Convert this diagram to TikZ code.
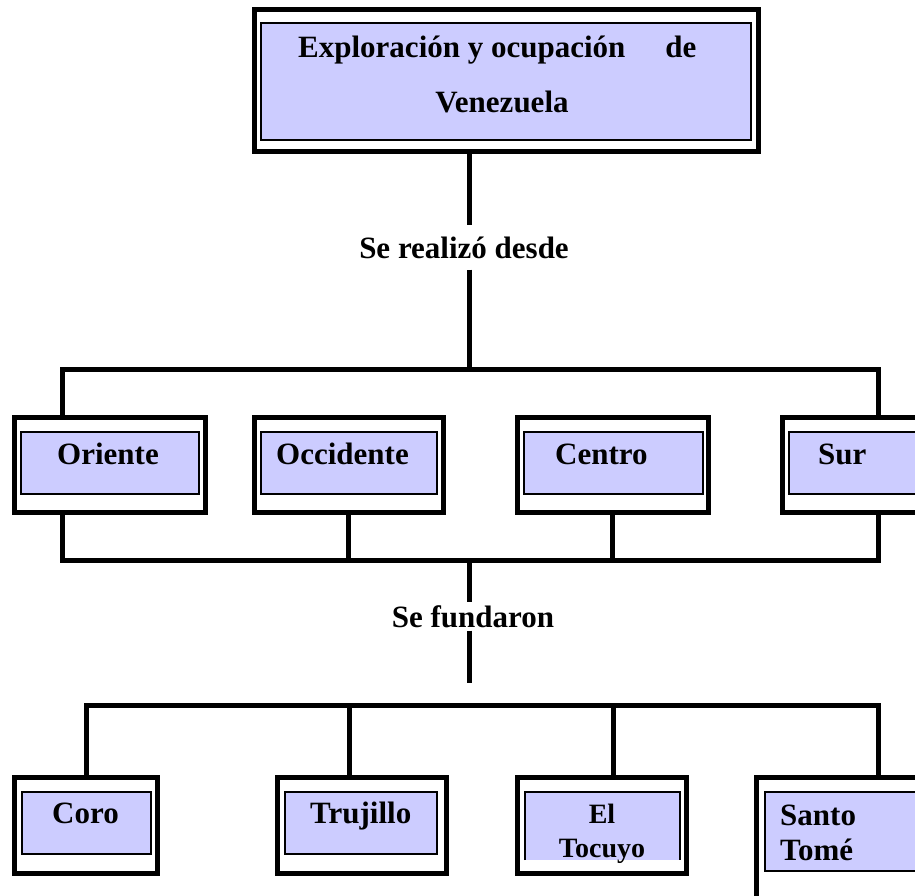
\documentclass[tikz,border=0pt]{standalone}
\usepackage{fontspec}
\setmainfont{Liberation Serif}
\usepackage{xcolor}
\usetikzlibrary{fit,positioning}
\definecolor{lavanda}{RGB}{204,204,255}

\begin{document}
\begin{tikzpicture}[x=1pt, y=-1pt,
	marco/.style={draw, line width=5pt, fill=white, inner sep=0pt, outer sep=0pt},
	panel/.style={draw, line width=2.2pt, fill=lavanda, inner sep=0pt, outer sep=0pt},
	texto/.style={font=\bfseries\fontsize{31}{35}\selectfont, inner sep=0pt},
	chico/.style={font=\bfseries\fontsize{28}{34}\selectfont, inner sep=0pt},
	enlace/.style={line width=5pt}]
	\useasboundingbox (0,0) rectangle (915,895);
	% titulo
	\node (titulo) [marco, fit={(254,9) (758,151)}] {};
	\node (ptitulo) [panel, fit={(261,23) (751,140)}] {};
	\node (t1) [texto, anchor=base west] at (298,57) {Exploración y ocupación\hspace{40pt}de};
	\node (t2) [texto, anchor=base] at (502,112) {Venezuela};
	% regiones
	\node (ori) [marco, fit={(14,417) (205,512)}] {};
	\node (occ) [marco, fit={(254,417) (443,512)}] {};
	\node (cen) [marco, fit={(517,417) (708,512)}] {};
	\node (sur) [marco, fit={(782,417) (940,512)}] {};
	\node (pori) [panel, fit={(21,432) (199,494)}] {};
	\node (pocc) [panel, fit={(261,432) (437,494)}] {};
	\node (pcen) [panel, fit={(524,432) (703,494)}] {};
	\node (psur) [panel, fit={(789,432) (940,494)}] {};
	\node (tori) [texto, anchor=base west] at (57,464) {Oriente};
	\node (tocc) [texto, anchor=base west] at (276,464) {Occidente};
	\node (tcen) [texto, anchor=base west] at (555,464) {Centro};
	\node (tsur) [texto, anchor=base west] at (818,464) {Sur};
	% ciudades
	\node (coro) [marco, fit={(14,777) (157,873)}] {};
	\node (tru) [marco, fit={(277,777) (446,873)}] {};
	\node (toc) [marco, fit={(517,777) (686,873)}] {};
	\node (sto) [marco, fit={(756,777) (940,910)}] {};
	\node (pcoro) [panel, fit={(22,792) (151,854)}] {};
	\node (ptru) [panel, fit={(285,792) (437,854)}] {};
	\node (ptoc) [panel, draw=none, fit={(525,792) (680,860)}] {};
	\draw [line width=2.2pt] (ptoc.south west) -- (ptoc.north west) -- (ptoc.north east) -- (ptoc.south east);
	\node (psto) [panel, fit={(765,792) (940,871)}] {};
	\node (tcoro) [texto, anchor=base west] at (52,823) {Coro};
	\node (ttru) [texto, anchor=base west] at (310,823) {Trujillo};
	\node (tel) [chico, anchor=base] at (602,823) {El};
	\node (ttoc) [chico, anchor=base] at (602,857) {Tocuyo};
	\node (tsan) [texto, anchor=base west] at (780,825) {Santo};
	\node (ttom) [texto, anchor=base west] at (780,860) {Tomé};
	% rotulos
	\node (rot1) [texto, inner ysep=11pt, anchor=base] at (464,258) {Se realizó desde};
	\node (rot2) [texto, inner ysep=3pt, anchor=base] at (473,627) {Se fundaron};
	% conectores
	\coordinate (eje) at (469,0);
	\coordinate (d1) at (62,369);
	\coordinate (d2) at (878,369);
	\coordinate (c1) at (62,560);
	\coordinate (c2) at (878,560);
	\coordinate (fin) at (469,683);
	\coordinate (a1) at (86,705);
	\coordinate (a2) at (349,705);
	\coordinate (a3) at (613,705);
	\coordinate (a4) at (878,705);
	\draw [enlace] (titulo.south -| eje) -- (rot1.north -| eje);
	\draw [enlace] (rot1.south -| eje) -- (eje |- d1);
	\draw [enlace] (ori.north -| d1) -- (d1) -- (d2) -- (sur.north -| d2);
	\draw [enlace] (ori.south -| c1) -- (c1) -- (c2) -- (sur.south -| c2);
	\draw [enlace] (occ.south) -- (occ.south |- c1);
	\draw [enlace] (cen.south) -- (cen.south |- c1);
	\draw [enlace] (eje |- c1) -- (rot2.north -| eje);
	\draw [enlace] (rot2.south -| eje) -- (fin);
	\draw [enlace] (coro.north -| a1) -- (a1) -- (a4) -- (sto.north -| a4);
	\draw [enlace] (a2) -- (tru.north -| a2);
	\draw [enlace] (a3) -- (toc.north -| a3);
\end{tikzpicture}
\end{document}
